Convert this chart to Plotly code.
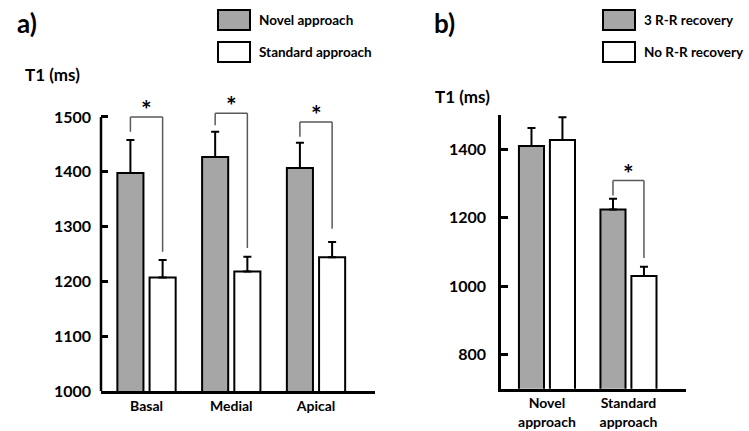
import plotly.graph_objects as go

# ---------------- data ----------------
regions = ["Basal", "Medial", "Apical"]
novel_a = [1398, 1427, 1407]
novel_a_err = [60, 46, 46]
standard_a = [1207, 1218, 1244]
standard_a_err = [32, 27, 28]
# significance brackets panel a: top, left-leg bottom, right-leg bottom
brk_a_top = [1500, 1507, 1491]
brk_a_left = [1473, 1485, 1464]
brk_a_right = [1254, 1261, 1296]
a_ticks = [1000, 1100, 1200, 1300, 1400, 1500]

approaches = ["Novel<br>approach", "Standard<br>approach"]
rr3 = [1409, 1223]
rr3_err = [52, 32]
norr = [1426, 1029]
norr_err = [67, 27]
brk_b_idx = [1]
brk_b_top = [1308]
brk_b_left = [1264]
brk_b_right = [1082]
b_ticks = [800, 1000, 1200, 1400]

GRAY = "#a6a6a6"
FONT = "Lato"
BARGAP = 0.24
BARGROUPGAP = 0.19
W, H = 749, 431

fig = go.Figure()

def bar(x, y, err, color, xa, ya):
    return go.Bar(
        x=x, y=y, xaxis=xa, yaxis=ya, showlegend=False, hoverinfo="skip",
        marker=dict(color=color, line=dict(color="black", width=2)),
        error_y=dict(type="data", array=err, arrayminus=[0] * len(err),
                     symmetric=False, color="black", thickness=2, width=4),
    )

fig.add_trace(bar(regions, novel_a, novel_a_err, GRAY, "x", "y"))
fig.add_trace(bar(regions, standard_a, standard_a_err, "white", "x", "y"))
fig.add_trace(bar(approaches, rr3, rr3_err, GRAY, "x2", "y2"))
fig.add_trace(bar(approaches, norr, norr_err, "white", "x2", "y2"))

off = (1 - BARGAP) / 4  # bar centre offset within a group (category units)
shapes = []
annotations = []
BRK = dict(color="#5a5a5a", width=1.5)

def bracket(i, top, left, right, xref, yref):
    xl, xr = i - off, i + off
    shapes.append(dict(type="line", xref=xref, yref=yref, x0=xl, x1=xl, y0=left, y1=top, line=BRK))
    shapes.append(dict(type="line", xref=xref, yref=yref, x0=xl, x1=xr, y0=top, y1=top, line=BRK))
    shapes.append(dict(type="line", xref=xref, yref=yref, x0=xr, x1=xr, y0=top, y1=right, line=BRK))
    annotations.append(dict(x=i, y=top, xref=xref, yref=yref, text="<b>*</b>", showarrow=False,
                            yanchor="bottom", yshift=-9, font=dict(family=FONT, size=25, color="black")))

for i in range(len(regions)):
    bracket(i, brk_a_top[i], brk_a_left[i], brk_a_right[i], "x", "y")
for k, i in enumerate(brk_b_idx):
    bracket(i, brk_b_top[k], brk_b_left[k], brk_b_right[k], "x2", "y2")

# y-axis line for panel a (the axis range is extended above 1500 for the brackets)
shapes.append(dict(type="line", xref="x domain", yref="y", x0=0, x1=0, y0=a_ticks[0], y1=a_ticks[-1],
                   line=dict(color="black", width=2.5)))

def px(x):
    return x / W

def py(y):
    return 1 - y / H

# legends
def legend_item(x0, y0, color, label):
    shapes.append(dict(type="rect", xref="paper", yref="paper", x0=px(x0), x1=px(x0 + 32),
                       y0=py(y0 + 20), y1=py(y0), fillcolor=color, line=dict(color="black", width=2)))
    annotations.append(dict(x=px(x0 + 39), y=py(y0 + 10), xref="paper", yref="paper", text="<b>" + label + "</b>",
                            showarrow=False, xanchor="left", yanchor="middle",
                            font=dict(family=FONT, size=13.5, color="black")))

legend_item(218, 10, GRAY, "Novel approach")
legend_item(218, 42, "white", "Standard approach")
legend_item(603, 10, GRAY, "3 R-R recovery")
legend_item(603, 42, "white", "No R-R recovery")

def label(x, y, text, size):
    annotations.append(dict(x=px(x), y=py(y), xref="paper", yref="paper", text="<b>" + text + "</b>",
                            showarrow=False, xanchor="left", yanchor="middle",
                            font=dict(family=FONT, size=size, color="black")))

label(15, 23, "a)", 26)
label(432, 23, "b)", 26)
label(23, 75, "T1 (ms)", 17)
label(433, 96, "T1 (ms)", 17)

xcommon = dict(showline=True, linecolor="black", linewidth=2.5, ticks="", showgrid=False, automargin=False,
               zeroline=False, tickfont=dict(family=FONT, size=14, color="black"), fixedrange=True)
ycommon = dict(ticks="inside", ticklen=7, tickwidth=2.5, tickcolor="black", showgrid=False, automargin=False,
               zeroline=False, tickfont=dict(family=FONT, size=16, color="black"), fixedrange=True,
               ticklabelstandoff=9)

fig.update_layout(
    width=W, height=H,
    margin=dict(l=0, r=0, t=0, b=0, autoexpand=False),
    paper_bgcolor="white", plot_bgcolor="white",
    barmode="group", bargap=BARGAP, bargroupgap=BARGROUPGAP,
    xaxis=dict(domain=[101 / W, 375 / W], range=[-0.537, 2.696], anchor="y",
               tickmode="array", tickvals=regions, ticktext=["<b>%s</b>" % r for r in regions], **xcommon),
    yaxis=dict(domain=[40 / H, 346.9 / H], range=[1000, 1560], anchor="x", showline=False,
               tickvals=a_ticks, ticktext=["<b>%d</b>" % v for v in a_ticks], **ycommon),
    xaxis2=dict(domain=[501 / W, 686 / W], range=[-0.564, 1.706], anchor="y2",
                tickmode="array", tickvals=approaches, ticktext=["<b>%s</b>" % a for a in approaches], **xcommon),
    yaxis2=dict(domain=[42.25 / H, 316.25 / H], range=[700, 1500], anchor="x2", showline=True,
                linecolor="black", linewidth=2.5,
                tickvals=b_ticks, ticktext=["<b>%d</b>" % v for v in b_ticks], **ycommon),
    shapes=shapes,
    annotations=annotations,
)

fig.write_html("out.html", config={"displayModeBar": False},
               post_script="document.body.style.margin='0px';")
